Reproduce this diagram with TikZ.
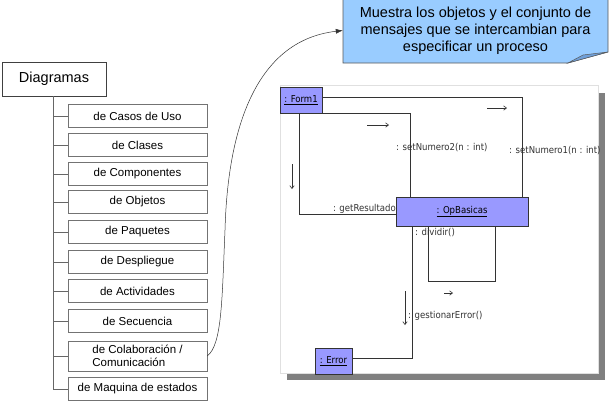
\documentclass[tikz,border=0pt]{standalone}
\usepackage{fontspec}
\setmainfont{Liberation Sans}
\newfontfamily\umlfont{DejaVu Sans Condensed}
\usepackage{xcolor}
\usetikzlibrary{arrows.meta,positioning,calc}

\definecolor{umlfill}{HTML}{9999FF}
\definecolor{notefill}{HTML}{99CCFF}
\definecolor{notefold}{HTML}{6F9FD8}

\pgfdeclarelayer{panel}
\pgfdeclarelayer{links}
\pgfsetlayers{panel,links,main}

\begin{document}
\begin{tikzpicture}[
  x=1pt, y=-1pt,
  treebox/.style={draw=black!55, fill=white, align=center, inner sep=0pt, minimum width=139pt, minimum height=23pt, font=\fontsize{11.5}{12.5}\selectfont},
  rootbox/.style={draw=black!75, fill=white, inner sep=0pt, minimum width=104pt, minimum height=34pt, font=\fontsize{14.5}{16}\selectfont},
  obj/.style={draw=black!80, fill=umlfill, inner sep=0pt, font=\fontsize{9.5}{11}\umlfont},
  msg/.style={font=\fontsize{9.5}{11}\umlfont, text=black!80, inner sep=0pt},
  link/.style={draw=black!80, line width=0.8pt},
  dir/.style={-{Straight Barb[length=3pt,width=4.5pt]}, black!80, line width=0.6pt},
  branch/.style={draw=black!60, line width=0.7pt}
]
  \useasboundingbox (0,0) rectangle (610,400);

  % left tree
  \node[rootbox] (diag) at (54,79) {Diagramas};

  \node[treebox] (casos)  at (137.5,116) {de Casos de Uso};
  \node[treebox] (clases) at (137.5,145) {de Clases};
  \node[treebox] (compo)  at (137.5,174) {de Componentes};
  \node[treebox] (objet)  at (137.5,202) {de Objetos};
  \node[treebox] (paque)  at (137.5,232) {de Paquetes};
  \node[treebox] (despl)  at (137.5,262) {de Despliegue};
  \node[treebox] (activ)  at (137.5,291) {de Actividades};
  \node[treebox] (secue)  at (137.5,321) {de Secuencia};
  \node[treebox, minimum height=30pt, align=left] (colab) at (137.5,356) {de Colaboraci\'on /\\Comunicaci\'on};
  \node[treebox] (maqui)  at (137.5,389) {de Maquina de estados};

  \coordinate (trunk) at (53,96);
  \draw[branch] (trunk) |- (maqui.west);
  \draw[branch] (trunk |- casos.west) -- (casos.west);
  \draw[branch] (trunk |- clases.west) -- (clases.west);
  \draw[branch] (trunk |- compo.west) -- (compo.west);
  \draw[branch] (trunk |- objet.west) -- (objet.west);
  \draw[branch] (trunk |- paque.west) -- (paque.west);
  \draw[branch] (trunk |- despl.west) -- (despl.west);
  \draw[branch] (trunk |- activ.west) -- (activ.west);
  \draw[branch] (trunk |- secue.west) -- (secue.west);
  \draw[branch] (trunk |- colab.west) -- (colab.west);

  % note
  \fill[notefill, draw=black!65, line width=0.6pt] (343,-2) -- (608,-2) -- (608,52) -- (568,63) -- (343,63) -- cycle;
  \fill[notefold, draw=black!65, line width=0.5pt] (568,63) -- (583,55) -- (608,52) -- cycle;
  \node[align=center, inner sep=0pt, minimum width=265pt, minimum height=64pt, font=\fontsize{14.5}{17}\selectfont] (note) at (475.5,30.5)
    {Muestra los objetos y el conjunto de\\mensajes que se intercambian para\\especificar un proceso};

  \draw[black!80, line width=0.5pt, -{Latex[length=7pt,width=5pt]}]
    (colab.east) .. controls (222,345) and (222,300) .. (225,230)
                 .. controls (228,120) and (260,40) .. (note.west);

  % collaboration panel
  \begin{pgfonlayer}{panel}
    \fill[black!50] (287,93) rectangle (605,380);
    \fill[white, draw=black!12] (280,85) rectangle (598,373);
  \end{pgfonlayer}

  \node[obj, minimum width=42pt, minimum height=26pt] (form) at (301,100) {\underline{: Form1}};
  \node[obj, minimum width=132pt, minimum height=29pt] (ops) at (462,211.5) {\underline{: OpBasicas}};
  \node[obj, minimum width=37pt, minimum height=26pt] (err) at (333.5,361) {\underline{: Error}};

  \begin{pgfonlayer}{links}
    \path[link] ([yshift=3pt]form.east) -| ([xshift=-6pt]ops.north east);
    \path[link] (form.south east) -| ([xshift=15pt]ops.north west);
    \path[link] ([xshift=20pt]form.south west) |- ([yshift=-2.5pt]ops.west);
    \path[link] ([xshift=33pt]ops.south west) -- ++(0,55) -| ([xshift=100pt]ops.south west);
    \path[link] ([xshift=17pt]ops.south west) |- ([yshift=3pt]err.east);
  \end{pgfonlayer}

  \node[msg, anchor=west] (m1) at (509,151) {: setNumero1(n : int)};
  \node[msg, anchor=west] (m2) at (396,148) {: setNumero2(n : int)};
  \node[msg, anchor=east] (m3) at (396,209) {: getResultado};
  \node[msg, anchor=west] (m4) at (415,233) {: dividir()};
  \node[msg, anchor=west] (m5) at (408,316) {: gestionarError()};

  \draw[dir] (487,108) -- (507,108);
  \draw[dir] (367,125) -- (389,125);
  \draw[dir] (292,164) -- (292,189);
  \draw[dir] (444,293) -- (453,293);
  \draw[dir] (405,291) -- (405,325);
\end{tikzpicture}
\end{document}
